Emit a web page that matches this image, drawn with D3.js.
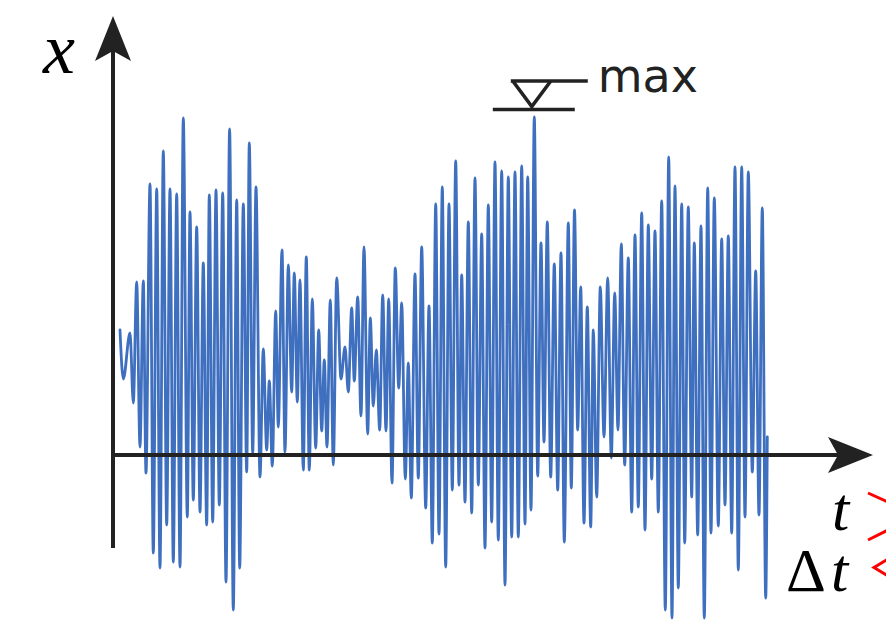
<!DOCTYPE html>
<html>
<head>
<meta charset="utf-8">
<script src="https://cdn.jsdelivr.net/npm/d3@7"></script>
<style>
  html, body { margin: 0; padding: 0; background: #fff; }
  svg { display: block; }
</style>
</head>
<body>
<svg id="chart" width="886" height="624"></svg>
<script>
// Turning points of the recorded response: time (samples) and displacement.
const time = [
  4.0, 5.65, 9.0, 10.65, 12.35, 14.0, 15.65, 17.0, 19.0, 20.65,
  22.35, 24.0, 25.65, 27.35, 29.0, 30.65, 32.35, 34.0, 35.65, 37.65,
  39.0, 40.65, 42.35, 44.0, 45.65, 47.35, 48.65, 50.35, 52.0, 53.65,
  55.35, 57.0, 58.8, 60.65, 62.35, 63.85, 65.65, 67.35, 68.65, 70.35,
  72.0, 74.0, 75.65, 77.35, 78.65, 80.15, 81.85, 83.15, 85.0, 86.5,
  88.15, 89.85, 91.15, 92.65, 94.0, 95.65, 97.15, 98.65, 100.15, 101.85,
  103.35, 104.85, 106.15, 107.5, 109.15, 110.65, 112.35, 114.5, 116.5, 118.15,
  119.85, 121.15, 122.85, 124.5, 126.0, 127.85, 129.15, 130.65, 132.15, 133.85,
  135.35, 137.0, 138.35, 140.0, 141.65, 143.35, 144.85, 146.65, 148.15, 149.65,
  151.5, 153.15, 154.85, 156.85, 158.5, 160.15, 161.85, 163.5, 165.15, 166.85,
  168.5, 170.15, 171.85, 173.5, 174.85, 176.5, 178.15, 179.85, 181.5, 183.15,
  184.85, 186.5, 188.15, 189.85, 191.5, 193.15, 194.85, 196.5, 198.15, 199.85,
  201.5, 203.15, 204.85, 206.5, 207.85, 209.5, 211.15, 212.85, 214.5, 216.0,
  217.65, 219.35, 221.15, 222.85, 224.5, 226.15, 228.15, 229.65, 231.25, 232.85,
  234.35, 236.0, 237.65, 239.35, 240.65, 242.35, 244.15, 246.0, 247.85, 249.65,
  251.35, 253.0, 254.65, 256.35, 258.15, 259.85, 261.5, 263.15, 264.85, 266.5,
  268.15, 269.85, 271.5, 273.15, 274.85, 276.65, 278.35, 280.0, 281.5, 283.15,
  284.85, 286.35, 288.15, 289.85, 291.15, 292.85, 294.5, 296.15, 297.85, 299.5,
  301.15, 303.15, 304.85, 306.5, 308.15, 309.85, 311.5, 313.15, 314.85, 316.5,
  318.15, 320.15, 321.85, 323.5, 325.15, 326.85, 327.65
];

const displacement = [
  1.25, 0.76, 1.22, 0.52, 1.73, 0.08, 1.74, -0.18, 2.71, -0.98,
  2.66, -1.13, 3.04, -0.70, 2.66, -1.07, 2.61, -1.12, 3.37, -0.62,
  2.43, -0.45, 2.28, -0.57, 1.92, -0.70, 2.60, -0.67, 2.65, -0.50,
  2.62, -1.27, 3.26, -1.55, 2.55, -1.13, 2.51, -0.17, 3.12, 0.02,
  2.68, -0.22, 1.06, 0.05, 0.74, -0.11, 1.44, 0.28, 2.05, 0.03,
  1.90, 0.63, 1.82, 0.53, 1.75, -0.15, 1.98, -0.15, 1.56, 0.07,
  1.25, 0.24, 0.95, 0.08, 1.55, -0.10, 1.77, 0.76, 1.08, 0.63,
  1.47, 0.74, 1.58, 0.39, 2.08, 0.21, 1.37, 0.49, 1.05, 0.25,
  1.60, 0.24, 1.56, -0.28, 1.87, 0.67, 1.52, -0.24, 0.92, -0.43,
  1.81, -0.23, 2.08, -0.53, 1.49, -0.88, 2.51, -0.79, 2.68, -1.12,
  2.51, -0.35, 2.94, -0.30, 1.80, -0.47, 2.33, -0.58, 2.77, -0.30,
  2.21, -0.93, 2.50, -0.67, 2.93, -0.85, 2.84, -1.30, 2.78, -0.82,
  2.83, -0.82, 2.89, -0.69, 2.78, -0.55, 3.38, -0.21, 2.12, 0.13,
  2.33, -0.22, 1.91, -0.35, 2.02, -0.87, 2.32, -0.33, 2.45, 0.25,
  1.68, -0.68, 1.48, -0.72, 1.25, -0.42, 1.68, 0.18, 1.77, -0.03,
  1.62, 0.25, 2.11, -0.10, 1.97, -0.57, 2.20, -0.52, 2.42, -0.75,
  2.30, -0.24, 2.24, -0.57, 2.54, -1.55, 2.98, -1.63, 2.69, -1.33,
  2.51, -0.88, 2.48, -0.42, 2.12, -0.80, 2.29, -1.63, 2.67, -0.78,
  2.57, -0.71, 2.16, -0.50, 2.19, -0.78, 2.88, -1.15, 2.88, -0.62,
  2.83, -0.17, 1.84, -0.60, 2.47, -1.43, 0.18
];

const axisLabelX = "x";
const axisLabelT = "t";
const stepLabel = ["\u0394", "t"];
const maxLabel = "max";

const series = time.map((t, i) => ({ t, v: displacement[i] }));

const svg = d3.select("#chart");
svg.append("rect").attr("width", 886).attr("height", 624).attr("fill", "#fff");

// Scales: samples along the time axis, displacement upward.
const xScale = d3.scaleLinear().domain([0, 380]).range([112, 872]);
const yScale = d3.scaleLinear().domain([-1, 4]).range([555, 55]);

const ink = "#222";
const y0 = yScale(0);
const xAxisX = 113;

// Signal trace
const line = d3.line()
  .x(d => xScale(d.t))
  .y(d => yScale(d.v))
  .curve(d3.curveMonotoneX);

svg.append("path")
  .datum(series)
  .attr("d", line)
  .attr("fill", "none")
  .attr("stroke", "#3F6FBF")
  .attr("stroke-width", 2.8)
  .attr("stroke-linejoin", "round")
  .attr("stroke-linecap", "round");

// Axes with arrow heads
const arrowLen = 45, arrowHalf = 18, notch = 10;

// time axis
svg.append("line")
  .attr("x1", xAxisX - 2).attr("y1", y0)
  .attr("x2", 873 - arrowLen + notch + 2).attr("y2", y0)
  .attr("stroke", ink).attr("stroke-width", 4);
svg.append("path")
  .attr("d", `M873,${y0} L${873 - arrowLen},${y0 - arrowHalf} L${873 - arrowLen + notch},${y0} L${873 - arrowLen},${y0 + arrowHalf} Z`)
  .attr("fill", ink);

// displacement axis
const yTop = 16, yBottom = 548;
svg.append("line")
  .attr("x1", xAxisX).attr("y1", yBottom)
  .attr("x2", xAxisX).attr("y2", yTop + arrowLen - notch - 2)
  .attr("stroke", ink).attr("stroke-width", 4);
svg.append("path")
  .attr("d", `M${xAxisX},${yTop} L${xAxisX - arrowHalf},${yTop + arrowLen} L${xAxisX},${yTop + arrowLen - notch} L${xAxisX + arrowHalf},${yTop + arrowLen} Z`)
  .attr("fill", ink);

// Axis labels
const serif = "'Liberation Serif', 'DejaVu Serif', serif";
svg.append("text")
  .attr("x", 43).attr("y", 73)
  .attr("font-family", serif).attr("font-style", "italic")
  .attr("font-size", 72).attr("fill", "#000")
  .text(axisLabelX);

// time label and time-step label, stacked in one block
const tLabels = svg.append("text")
  .attr("font-family", serif).attr("fill", "#000");
tLabels.append("tspan")
  .attr("x", 832).attr("y", 530)
  .attr("font-size", 62).attr("font-style", "italic")
  .text(axisLabelT);
tLabels.append("tspan")
  .attr("x", 786).attr("y", 591)
  .attr("font-size", 62)
  .text(stepLabel[0]);
tLabels.append("tspan")
  .attr("dx", 5)
  .attr("font-size", 62).attr("font-style", "italic")
  .text(stepLabel[1]);

// Red markers at the right edge
const red = "#ff0000";
[[868, 493, 890, 503], [868, 540, 890, 529]].forEach(([a, b, c, d]) => {
  svg.append("line").attr("x1", a).attr("y1", b).attr("x2", c).attr("y2", d)
    .attr("stroke", red).attr("stroke-width", 3);
});
svg.append("path")
  .attr("d", "M888,559 L874,567.5 L888,576")
  .attr("fill", "none").attr("stroke", red).attr("stroke-width", 3);

// Maximum marker above the highest peak
const peak = series.reduce((a, b) => (b.v > a.v ? b : a));
const px = xScale(peak.t) - 2.5;
const baseY = yScale(peak.v) - 7.5;
const topY = baseY - 28.5;
const mark = svg.append("g").attr("stroke", ink).attr("stroke-width", 3.6).attr("fill", "none");
mark.append("line").attr("x1", px - 39).attr("y1", baseY).attr("x2", px + 43).attr("y2", baseY);
mark.append("line").attr("x1", px - 21).attr("y1", topY).attr("x2", px + 56).attr("y2", topY);
mark.append("path")
  .attr("d", `M${px - 19},${topY} L${px},${baseY - 3} L${px + 19},${topY}`)
  .attr("stroke-linejoin", "miter");

svg.append("text")
  .attr("x", px + 66).attr("y", topY + 11)
  .attr("font-family", "'DejaVu Sans', Verdana, sans-serif")
  .attr("font-size", 46).attr("fill", ink)
  .text(maxLabel);
</script>
</body>
</html>
